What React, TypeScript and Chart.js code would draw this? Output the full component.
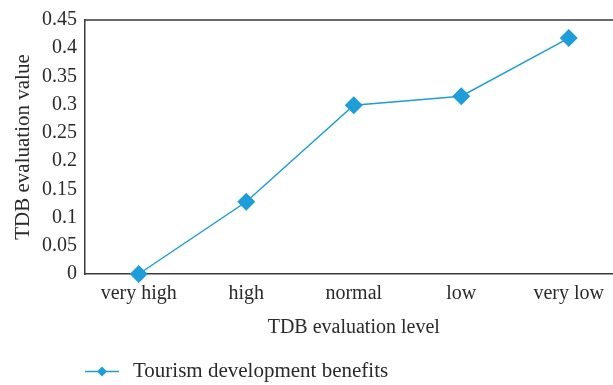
import React, { useEffect, useRef } from "react";
import { Chart, registerables } from "chart.js";

Chart.register(...registerables);

const categories = ["very high", "high", "normal", "low", "very low"];
const benefits = [0, 0.128, 0.299, 0.315, 0.418];
const yTickLabels = ["0", "0.05", "0.1", "0.15", "0.2", "0.25", "0.3", "0.35", "0.4", "0.45"];
const seriesName = "Tourism development benefits";
const xTitle = "TDB evaluation level";
const yTitle = "TDB evaluation value";

const BLUE = "#1e9dd8";
const TEXT = "#2a2a2a";
const FRAME = "#3a3a3a";
const FONT = "'Liberation Serif', 'Times New Roman', serif";

const framePlugin = {
  id: "frameAndLegend",
  afterDraw(chart: any) {
    const { ctx, chartArea } = chart;
    ctx.save();
    ctx.strokeStyle = FRAME;
    ctx.lineWidth = 1.5;
    ctx.beginPath();
    ctx.moveTo(chartArea.left, chartArea.top);
    ctx.lineTo(chartArea.right, chartArea.top);
    ctx.lineTo(chartArea.right, chartArea.bottom);
    ctx.stroke();

    // legend
    const ds = chart.data.datasets[0];
    const ly = 371.5;
    const lx = chartArea.left;
    ctx.strokeStyle = ds.borderColor;
    ctx.lineWidth = 1.5;
    ctx.beginPath();
    ctx.moveTo(lx, ly);
    ctx.lineTo(lx + 34, ly);
    ctx.stroke();
    const cx = lx + 17;
    const r = 5;
    ctx.fillStyle = ds.pointBackgroundColor;
    ctx.beginPath();
    ctx.moveTo(cx - r, ly);
    ctx.lineTo(cx, ly - r);
    ctx.lineTo(cx + r, ly);
    ctx.lineTo(cx, ly + r);
    ctx.closePath();
    ctx.fill();
    ctx.fillStyle = TEXT;
    ctx.font = `21px ${FONT}`;
    ctx.textBaseline = "middle";
    ctx.textAlign = "left";
    ctx.fillText(ds.label, lx + 48, ly);
    ctx.restore();
  },
};

export default function App() {
  const ref = useRef<HTMLCanvasElement>(null);
  useEffect(() => {
    if (!ref.current) return;
    const chart = new Chart(ref.current, {
      type: "line",
      data: {
        labels: categories,
        datasets: [
          {
            label: seriesName,
            data: benefits,
            borderColor: BLUE,
            backgroundColor: BLUE,
            pointBackgroundColor: BLUE,
            pointBorderColor: BLUE,
            borderWidth: 1.5,
            pointStyle: "rectRot",
            pointRadius: 9,
            pointBorderWidth: 0,
            tension: 0,
            clip: false as any,
          },
        ],
      },
      options: {
        animation: false,
        responsive: false,
        maintainAspectRatio: false,
        layout: { padding: { top: 20, right: 17.5, bottom: 41, left: 0 } },
        plugins: { legend: { display: false }, tooltip: { enabled: false } },
        scales: {
          x: {
            type: "category",
            offset: true,
            grid: { display: false, drawTicks: false },
            border: { display: true, color: FRAME, width: 1.5 },
            ticks: { color: TEXT, font: { family: FONT, size: 20 }, padding: 8, maxRotation: 0, autoSkip: false },
            title: { display: true, text: xTitle, color: TEXT, font: { family: FONT, size: 20 }, padding: { top: 0, bottom: 4 } },
            afterFit: (s: any) => { s.height = 70; },
          },
          y: {
            min: 0,
            max: 0.45,
            grid: { display: false, drawTicks: false },
            border: { display: true, color: FRAME, width: 1.5 },
            ticks: {
              stepSize: 0.05,
              color: TEXT,
              font: { family: FONT, size: 20 },
              padding: 8,
              callback: (_v: any, i: number) => yTickLabels[i],
            },
            title: { display: true, text: yTitle, color: TEXT, font: { family: FONT, size: 21 }, padding: { top: 11, bottom: 0 } },
            afterFit: (s: any) => { s.width = 85; },
          },
        },
      },
      plugins: [framePlugin],
    });
    return () => chart.destroy();
  }, []);
  return (
    <div style={{ position: "fixed", left: 0, top: 0, width: 613, height: 385, overflow: "hidden", background: "#fff" }}>
      <canvas ref={ref} width={640} height={385} style={{ display: "block", width: 640, height: 385 }} />
    </div>
  );
}
